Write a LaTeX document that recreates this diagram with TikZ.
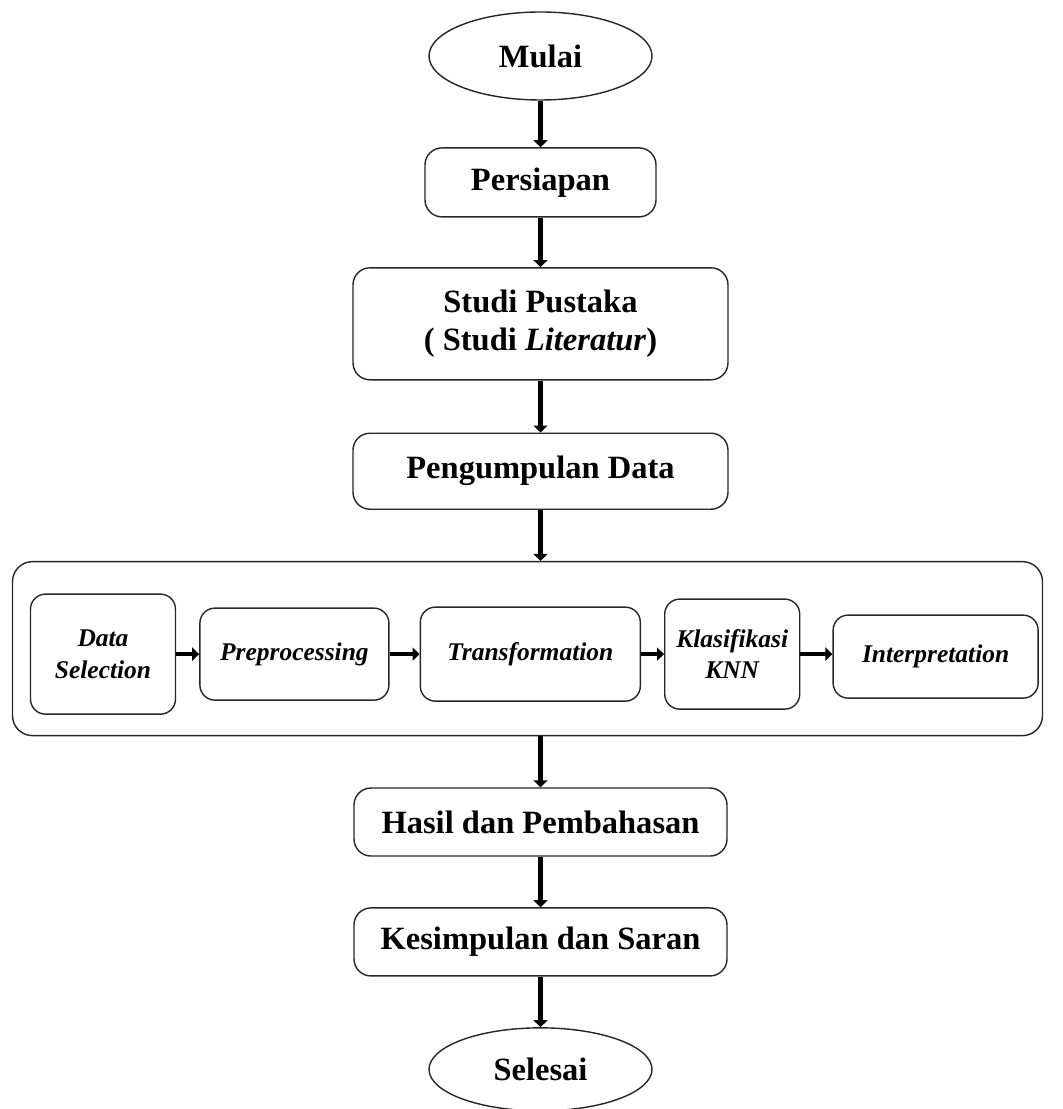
\documentclass[tikz,border=0pt]{standalone}
\usepackage{fontspec}
\setmainfont{Liberation Serif}
\usetikzlibrary{arrows.meta,positioning,shapes.geometric}

\begin{document}
\begin{tikzpicture}[
  node distance=10.1mm and 4.6mm,
  box/.style={draw=black!85,line width=0.8pt,rounded corners=3.4mm,align=center,inner sep=2pt,font=\fontsize{18.5}{22}\selectfont\bfseries},
  term/.style={draw=black!85,line width=0.8pt,ellipse,inner sep=0pt,minimum width=4.46cm,font=\fontsize{18.5}{22}\selectfont\bfseries},
  sub/.style={draw=black!85,line width=0.8pt,rounded corners=3mm,align=center,inner sep=2pt,font=\fontsize{14.5}{18}\selectfont\bfseries\itshape},
  arr/.style={-{Triangle[length=1.4mm,width=2.8mm]},line width=2.6pt},
  harr/.style={-{Triangle[length=1.4mm,width=2.6mm]},line width=2.2pt}]
  \useasboundingbox (0,0) rectangle (21.24,-22.18);
  \node[term,minimum height=1.76cm] (mulai) at (10.81,-1.12) {Mulai};
  \node[box,minimum width=4.62cm,minimum height=1.38cm,below=9.3mm of mulai] (persiapan) {Persiapan};
  \node[box,minimum width=7.5cm,minimum height=2.24cm,below=9.9mm of persiapan] (studi) {Studi Pustaka\\( Studi \textit{Literatur})};
  \node[box,minimum width=7.5cm,minimum height=1.52cm,below=10.4mm of studi] (peng) {Pengumpulan Data};
  % tahapan KDD
  \node[draw=black!85,line width=0.8pt,rounded corners=4mm,minimum width=20.6cm,minimum height=3.48cm,below=10.2mm of peng,xshift=-2.6mm] (kdd) {};
  \node[sub,minimum width=2.9cm,minimum height=2.4cm,right=3.6mm of kdd.west,yshift=-1.1mm] (sel) {Data\\Selection};
  \node[sub,minimum width=3.78cm,minimum height=1.84cm,right=of sel] (pre) {Preprocessing};
  \node[sub,minimum width=4.4cm,minimum height=1.88cm,right=6mm of pre] (trans) {Transformation};
  \node[sub,minimum width=2.7cm,minimum height=2.2cm,right=of trans] (knn) {Klasifikasi\\KNN};
  \node[sub,minimum width=4.1cm,minimum height=1.66cm,right=6.4mm of knn,yshift=-0.5mm] (interp) {Interpretation};
  \node[box,minimum width=7.46cm,minimum height=1.36cm,below=10.2mm of kdd.south-|peng,anchor=north] (hasil) {Hasil dan Pembahasan};
  \node[box,minimum width=7.46cm,minimum height=1.36cm,below=of hasil] (kes) {Kesimpulan dan Saran};
  \node[term,minimum height=1.66cm,below=of kes] (selesai) {Selesai};
  \draw[arr] (mulai)--(persiapan);
  \draw[arr] (persiapan)--(studi);
  \draw[arr] (studi)--(peng);
  \draw[arr] (peng)--(peng|-kdd.north);
  \draw[harr] (sel)--(pre);
  \draw[harr] (pre)--(trans);
  \draw[harr] (trans)--(knn);
  \draw[harr] (knn)--(knn-|interp.west);
  \draw[arr] (kdd.south-|hasil)--(hasil);
  \draw[arr] (hasil)--(kes);
  \draw[arr] (kes)--(selesai);
\end{tikzpicture}
\end{document}
